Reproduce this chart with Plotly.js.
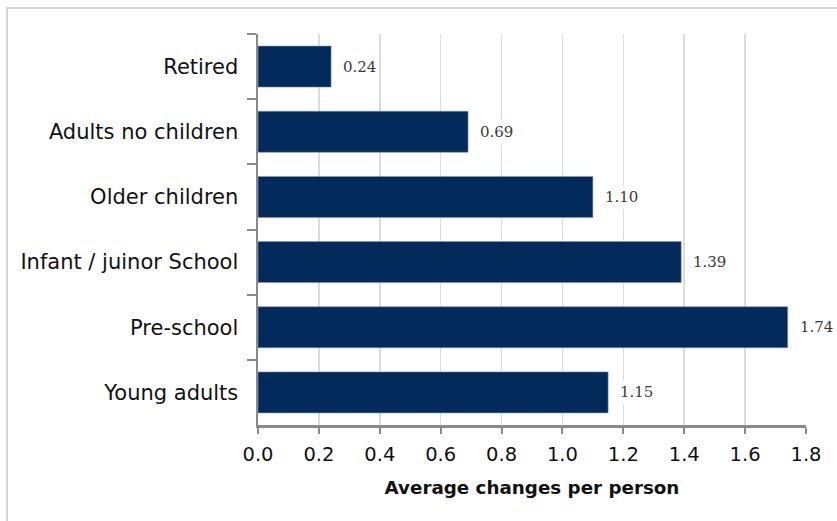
<!DOCTYPE html>
<html>
<head>
<meta charset="utf-8">
<script src="https://cdn.plot.ly/plotly-3.0.1.min.js"></script>
<style>
  html, body { margin: 0; padding: 0; background: #fff; }
  #wrap { position: relative; width: 837px; height: 521px; overflow: hidden; }
  #chart { position: absolute; left: 0; top: 0; width: 837px; height: 521px; }
  #frame { position: absolute; left: 6px; top: 7px; width: 900px; height: 600px;
           border-left: 2px solid #d4d4d4; border-top: 2px solid #d4d4d4; pointer-events: none; }
</style>
</head>
<body>
<div id="wrap">
  <div id="chart"></div>
  <div id="frame"></div>
</div>
<script>
const categories = ["Retired", "Adults no children", "Older children", "Infant / juinor School", "Pre-school", "Young adults"];
const values = [0.24, 0.69, 1.10, 1.39, 1.74, 1.15];
const valueLabels = ["0.24", "0.69", "1.10", "1.39", "1.74", "1.15"];
const xTicks = [0, 0.2, 0.4, 0.6, 0.8, 1.0, 1.2, 1.4, 1.6, 1.8];
const xTickLabels = ["0.0", "0.2", "0.4", "0.6", "0.8", "1.0", "1.2", "1.4", "1.6", "1.8"];
const xTitle = "Average changes per person";

const labelFont = "'DejaVu Sans', sans-serif";

const trace = {
  type: "bar",
  orientation: "h",
  x: values,
  y: categories,
  marker: { color: "#022a5a", line: { color: "#8796ab", width: 0.6 } },
  hoverinfo: "none"
};

const annotations = values.map((v, i) => ({
  x: v, y: categories[i], xref: "x", yref: "y",
  text: valueLabels[i], showarrow: false,
  xanchor: "left", yanchor: "middle", xshift: 9,
  bgcolor: "#ffffff", borderpad: 2,
  font: { family: "'DejaVu Serif', serif", size: 15, color: "#3a3a3a" }
}));

const layout = {
  width: 837, height: 521,
  margin: { l: 258, r: 31, t: 34, b: 96 },
  paper_bgcolor: "#ffffff",
  plot_bgcolor: "#ffffff",
  bargap: 0.37,
  showlegend: false,
  xaxis: {
    range: [0, 1.8],
    tickvals: xTicks, ticktext: xTickLabels,
    showgrid: true, gridcolor: "#dcdcdc", gridwidth: 1.5,
    zeroline: false,
    showline: true, linecolor: "#8a8a8a", linewidth: 2.5,
    ticks: "outside", ticklen: 6, tickwidth: 2, tickcolor: "#8a8a8a",
    tickfont: { family: labelFont, size: 19.5, color: "#111" },
    ticklabelstandoff: 4,
    title: { text: "<b>" + xTitle + "</b>", font: { family: labelFont, size: 18.3, color: "#111" }, standoff: 17 },
    fixedrange: true
  },
  yaxis: {
    autorange: "reversed",
    type: "category",
    showgrid: false, zeroline: false,
    showline: true, linecolor: "#8a8a8a", linewidth: 2.5,
    ticks: "outside", ticklen: 9, tickwidth: 2, tickcolor: "#8a8a8a",
    tickson: "boundaries",
    tickfont: { family: labelFont, size: 21, color: "#111" },
    ticklabelstandoff: 13,
    fixedrange: true
  },
  annotations: annotations
};

Plotly.newPlot("chart", [trace], layout, { displayModeBar: false, staticPlot: true });
</script>
</body>
</html>
